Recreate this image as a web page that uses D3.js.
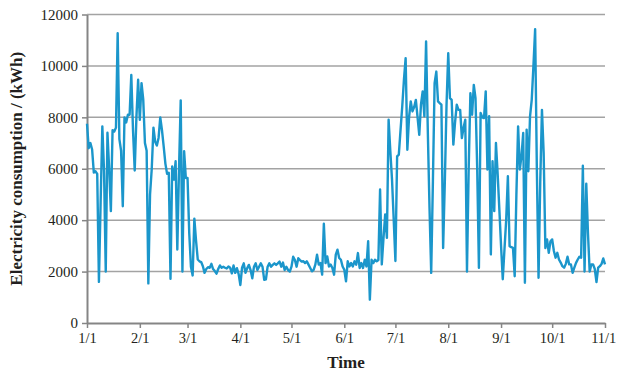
<!DOCTYPE html>
<html>
<head>
<meta charset="utf-8">
<script src="https://cdn.jsdelivr.net/npm/d3@7"></script>
<style>
  html, body { margin: 0; padding: 0; background: #fff; }
  svg { display: block; font-family: "Liberation Serif", "Times New Roman", serif; }
</style>
</head>
<body>
<div id="chart"></div>
<script>
// daily electricity consumption (kWh), one array per month
const jan = [7750, 6800, 7000, 6750, 5850, 5900, 5800, 1600, 4700, 7650, 5900, 2000, 7400, 6000, 4350, 7500,
  7450, 7600, 11270, 7150, 6700, 4540, 8000, 7800, 8100, 8100, 9650, 7500, 5930, 8000, 9460];
const feb = [7900, 9330, 8700, 7000, 6700, 1540, 5000, 6000, 7600, 7050, 6900, 7200, 8000, 7500, 6870, 6200,
  5800, 5840, 1720, 6090, 5580, 6290, 2860, 6000, 8660, 2000, 6680, 5640];
const mar = [5640, 3500, 2190, 1850, 4060, 3200, 2470, 2400, 2370, 2210, 1950, 2100, 2170, 2150, 2300, 2100,
  2020, 1920, 2100, 2240, 2150, 2190, 2150, 2120, 2200, 2150, 1930, 2240, 1950, 2130, 1900];
const apr = [1480, 2150, 2320, 1950, 2130, 2260, 2060, 1740, 2190, 2320, 2060, 2190, 2320, 2190, 1680, 1700,
  2190, 2320, 2190, 2260, 2320, 2260, 2320, 2390, 2190, 2350, 2060, 2190, 2060, 2000];
const may = [2190, 2580, 2450, 2190, 2520, 2450, 2390, 2400, 2330, 2400, 2270, 2140, 2010, 2070, 2270, 2660,
  2270, 2330, 1880, 3860, 2330, 2590, 2200, 2270, 2140, 1880, 2660, 2850, 2530, 2460, 2200];
const jun = [2070, 1620, 2400, 2200, 2330, 2200, 2400, 2270, 2720, 2140, 2330, 2140, 2460, 2200, 3180, 910,
  2460, 2330, 2460, 2400, 2450, 5190, 2280, 3300, 4220, 3310, 7910, 6700, 5580, 4020];
const jul = [2410, 6480, 6550, 7500, 8420, 9460, 10300, 6740, 8000, 8620, 8230, 8400, 8680, 8000, 7320, 8500,
  9010, 8040, 10950, 7500, 4500, 1950, 5500, 9330, 9780, 8620, 8550, 8490, 2920, 5500, 8500];
const aug = [10490, 8750, 8680, 6940, 7800, 8490, 8290, 8290, 7190, 7600, 7910, 2000, 6000, 8940, 8100, 9260,
  8750, 6000, 2150, 8170, 8000, 7970, 9010, 5970, 8040, 2670, 6290, 4350, 7000, 5800, 4410];
const sep = [3000, 1700, 2860, 4000, 5710, 2990, 2950, 2920, 1820, 5000, 7650, 5970, 6500, 7390, 1570, 7520,
  5900, 8040, 8680, 10000, 11430, 6000, 1760, 5500, 8290, 6610, 2920, 3250, 2730, 3180];
const oct = [3250, 2800, 2540, 2730, 2470, 2350, 2210, 2150, 2300, 2580, 2280, 2280, 1950, 2150, 2340, 2470,
  2580, 2540, 6120, 2000, 5420, 3500, 2000, 2280, 2280, 2100, 1590, 2150, 2210, 2300, 2510];
const nov = [2280];

const monthLabels = ["1/1", "2/1", "3/1", "4/1", "5/1", "6/1", "7/1", "8/1", "9/1", "10/1", "11/1"];
const yTicks = [0, 2000, 4000, 6000, 8000, 10000, 12000];

const width = 617, height = 375;
const margin = { top: 14.5, right: 12, bottom: 51.5, left: 87 };

const start = new Date(2019, 0, 1);
const values = [].concat(jan, feb, mar, apr, may, jun, jul, aug, sep, oct, nov);
const data = values.map((v, i) => ({ date: d3.timeDay.offset(start, i), value: v }));
const monthDates = monthLabels.map((_, i) => new Date(2019, i, 1));

const svg = d3.select("#chart").append("svg")
  .attr("width", width)
  .attr("height", height);

const x = d3.scaleTime()
  .domain([monthDates[0], monthDates[monthDates.length - 1]])
  .range([margin.left, width - margin.right]);

const y = d3.scaleLinear()
  .domain([0, 12000])
  .range([height - margin.bottom - 0.5, margin.top]);

// horizontal grid
svg.append("g")
  .selectAll("line")
  .data(yTicks.slice(1))
  .enter()
  .append("line")
  .attr("x1", margin.left)
  .attr("x2", width - margin.right)
  .attr("y1", d => y(d))
  .attr("y2", d => y(d))
  .attr("stroke", "#a3a3a3")
  .attr("stroke-width", 1.5);

// y axis
const yAxis = svg.append("g")
  .attr("transform", `translate(${margin.left},0)`)
  .call(d3.axisLeft(y).tickValues(yTicks).tickFormat(d3.format("d")).tickSize(5).tickSizeOuter(0).tickPadding(4));

// x axis
const xAxis = svg.append("g")
  .attr("transform", `translate(0,${y(0)})`)
  .call(d3.axisBottom(x).tickValues(monthDates).tickFormat((d, i) => monthLabels[i]).tickSize(5).tickSizeOuter(0).tickPadding(5));

[yAxis, xAxis].forEach(g => {
  g.select(".domain").attr("stroke", "#858585").attr("stroke-width", 2);
  g.selectAll(".tick line").attr("stroke", "#858585").attr("stroke-width", 1.5);
  g.selectAll(".tick text")
    .attr("fill", "#231f20")
    .style("font-family", "'Liberation Serif', 'Times New Roman', serif")
    .style("font-size", "15px");
});

// the last month label sits against the right edge, as in the figure
xAxis.selectAll(".tick text")
  .style("font-size", "14.5px")
  .filter((d, i) => i === monthLabels.length - 1)
  .attr("text-anchor", "end")
  .attr("dx", "0.75em");

// the series
svg.append("path")
  .datum(data)
  .attr("fill", "none")
  .attr("stroke", "#1b96cb")
  .attr("stroke-width", 2.4)
  .attr("stroke-linejoin", "round")
  .attr("d", d3.line()
    .x(d => x(d.date))
    .y(d => y(d.value)));

// axis titles
svg.append("text")
  .attr("x", (margin.left + width - margin.right) / 2)
  .attr("y", 368)
  .attr("text-anchor", "middle")
  .attr("fill", "#231f20")
  .style("font-weight", "bold")
  .style("font-size", "17px")
  .text("Time");

svg.append("text")
  .attr("transform", `translate(22,${(margin.top + y(0)) / 2}) rotate(-90)`)
  .attr("text-anchor", "middle")
  .attr("fill", "#231f20")
  .style("font-weight", "bold")
  .style("font-size", "17px")
  .text("Electricity consumption / (kWh)");
</script>
</body>
</html>
